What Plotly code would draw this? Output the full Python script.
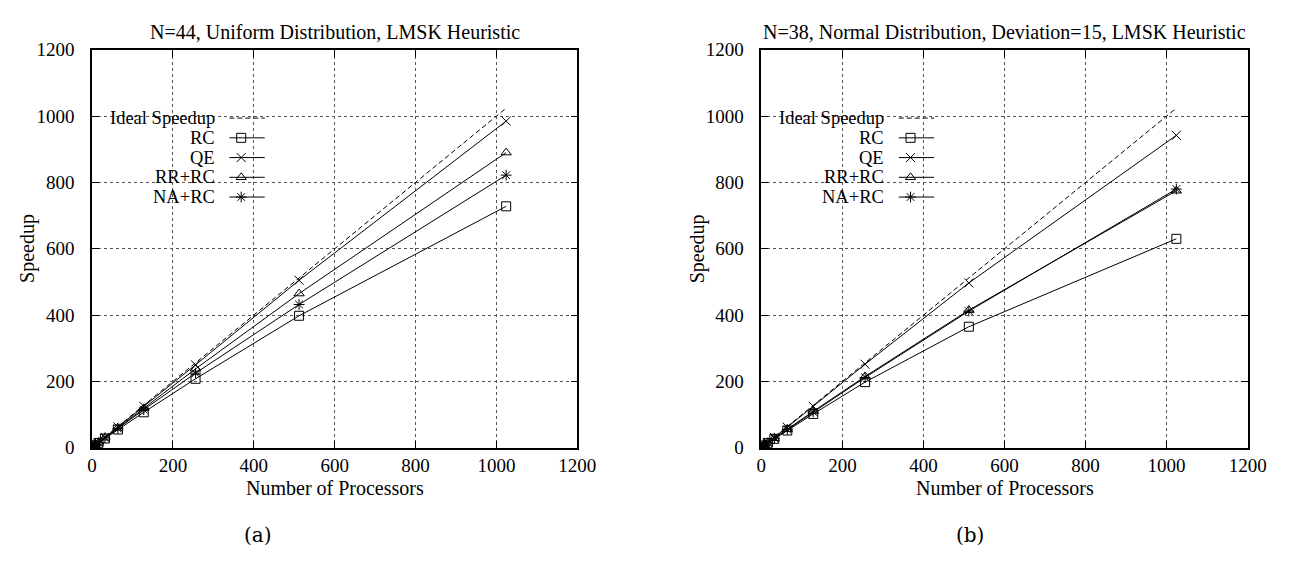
import plotly.graph_objects as go

procs = [1, 2, 4, 8, 16, 32, 64, 128, 256, 512, 1024]
ideal = [1, 2, 4, 8, 16, 32, 64, 128, 256, 512, 1024]

# (a) N=44, Uniform
a_rc = [1, 2, 3.9, 7.6, 14.5, 28, 55, 107, 208, 398, 728]
a_qe = [1, 2, 4, 8, 16, 31.5, 63, 125, 250, 505, 985]
a_rrrc = [1, 2, 4, 7.9, 15.6, 30.5, 60, 119, 238, 465, 890]
a_narc = [1, 2, 4, 7.8, 15.3, 30, 58, 115, 225, 432, 822]

# (b) N=38, Normal, Deviation=15
b_rc = [1, 2, 3.9, 7.5, 14.2, 27, 52, 102, 198, 365, 630]
b_qe = [1, 2, 4, 8, 16, 31.5, 62, 125, 252, 497, 942]
b_rrrc = [1, 2, 4, 7.8, 15.2, 29, 56, 110, 215, 415, 775]
b_narc = [1, 2, 4, 7.8, 15.1, 28.5, 55, 108, 212, 412, 780]

names = ["RC", "QE", "RR+RC", "NA+RC"]
symbols = ["square-open", "x-thin-open", "triangle-up-open", "asterisk-open"]
titles = ["N=44, Uniform Distribution, LMSK Heuristic",
          "N=38, Normal Distribution, Deviation=15, LMSK Heuristic"]
panel_labels = ["(a)", "(b)"]
x_ticks = [0, 200, 400, 600, 800, 1000, 1200]
y_ticks = [0, 200, 400, 600, 800, 1000, 1200]

W, H = 1294, 561
FONT = "Liberation Serif"

# plot boxes in pixels (left, right)
boxes = [(80.5, 575), (762.5, 1258)]
panel_x = [250, 975]
top_px, bot_px = 33, 446.5

def px(x):
    return x / W

def py(y):
    return 1 - y / H

fig = go.Figure()

series = [[a_rc, a_qe, a_rrrc, a_narc], [b_rc, b_qe, b_rrrc, b_narc]]

def ann(text, x, y, size=20, family=FONT, xanchor="center", angle=0):
    fig.add_annotation(text=text, x=x, y=y, xref="paper", yref="paper",
                       xanchor=xanchor, yanchor="middle", textangle=angle,
                       showarrow=False, font=dict(family=family, size=size, color="black"))

for i, (sers, (l, r)) in enumerate(zip(series, boxes)):
    xa = "x" if i == 0 else "x2"
    ya = "y" if i == 0 else "y2"
    fig.add_trace(go.Scatter(x=procs, y=ideal, mode="lines", xaxis=xa, yaxis=ya,
                             line=dict(color="black", width=1, dash="5px,3px"),
                             showlegend=False, hoverinfo="skip"))
    for vals, nm, sym in zip(sers, names, symbols):
        fig.add_trace(go.Scatter(x=procs, y=vals, mode="lines+markers", xaxis=xa, yaxis=ya,
                                 name=nm, showlegend=False,
                                 line=dict(color="black", width=1),
                                 marker=dict(symbol=sym, size=9, color="black",
                                             line=dict(color="black", width=1))))

    axis_common = dict(range=[0, 1200], showgrid=True, gridcolor="#555",
                       griddash="dot", gridwidth=1, zeroline=False,
                       showline=True, linecolor="black", linewidth=1.5, mirror="allticks",
                       ticks="inside", ticklen=7, tickcolor="black",
                       tickfont=dict(family=FONT, size=19, color="black"))
    xkey = "xaxis" if i == 0 else "xaxis2"
    ykey = "yaxis" if i == 0 else "yaxis2"
    fig.update_layout(**{
        xkey: dict(axis_common, domain=[px(l), px(r)], anchor=ya, tickvals=x_ticks,
                   ticklabelstandoff=0),
        ykey: dict(axis_common, domain=[py(bot_px), py(top_px)], anchor=xa, tickvals=y_ticks,
                   ticklabelstandoff=12),
    })
    cx = (l + r) / 2
    ann(titles[i], px(cx), py(15))
    ann("Number of Processors", px(cx), py(488))
    ann("Speedup", px(l - 65), py((top_px + bot_px) / 2), angle=-90)
    ann(panel_labels[i], px(panel_x[i]), py(537), size=20, family="DejaVu Serif")

    # legend (gnuplot style: right-justified text, sample to the right)
    leg_names = ["Ideal Speedup"] + names
    leg_syms = [None] + symbols
    for k, (nm, sym) in enumerate(zip(leg_names, leg_syms)):
        yy = 104 + 20.5 * k
        ann(nm, px(l + 127), py(yy), size=18.5, xanchor="right")
        fig.add_shape(type="line", xref="paper", yref="paper",
                      x0=px(l + 140), x1=px(l + 176), y0=py(yy), y1=py(yy),
                      line=dict(color="black", width=1, dash="5px,3px" if sym is None else "solid"))
        if sym is not None:
            fig.add_trace(go.Scatter(x=[px(l + 152)], y=[py(yy)], xaxis="x3", yaxis="y3",
                                     mode="markers", showlegend=False, hoverinfo="skip",
                                     marker=dict(symbol=sym, size=9, color="black",
                                                 line=dict(color="black", width=1))))

fig.update_layout(
    xaxis3=dict(domain=[0, 1], range=[0, 1], visible=False, anchor="y3"),
    yaxis3=dict(domain=[0, 1], range=[0, 1], visible=False, anchor="x3"),
    width=W, height=H, margin=dict(l=0, r=0, t=0, b=0),
    paper_bgcolor="white", plot_bgcolor="rgba(0,0,0,0)", showlegend=False,
)

fig.write_html("out.html")
